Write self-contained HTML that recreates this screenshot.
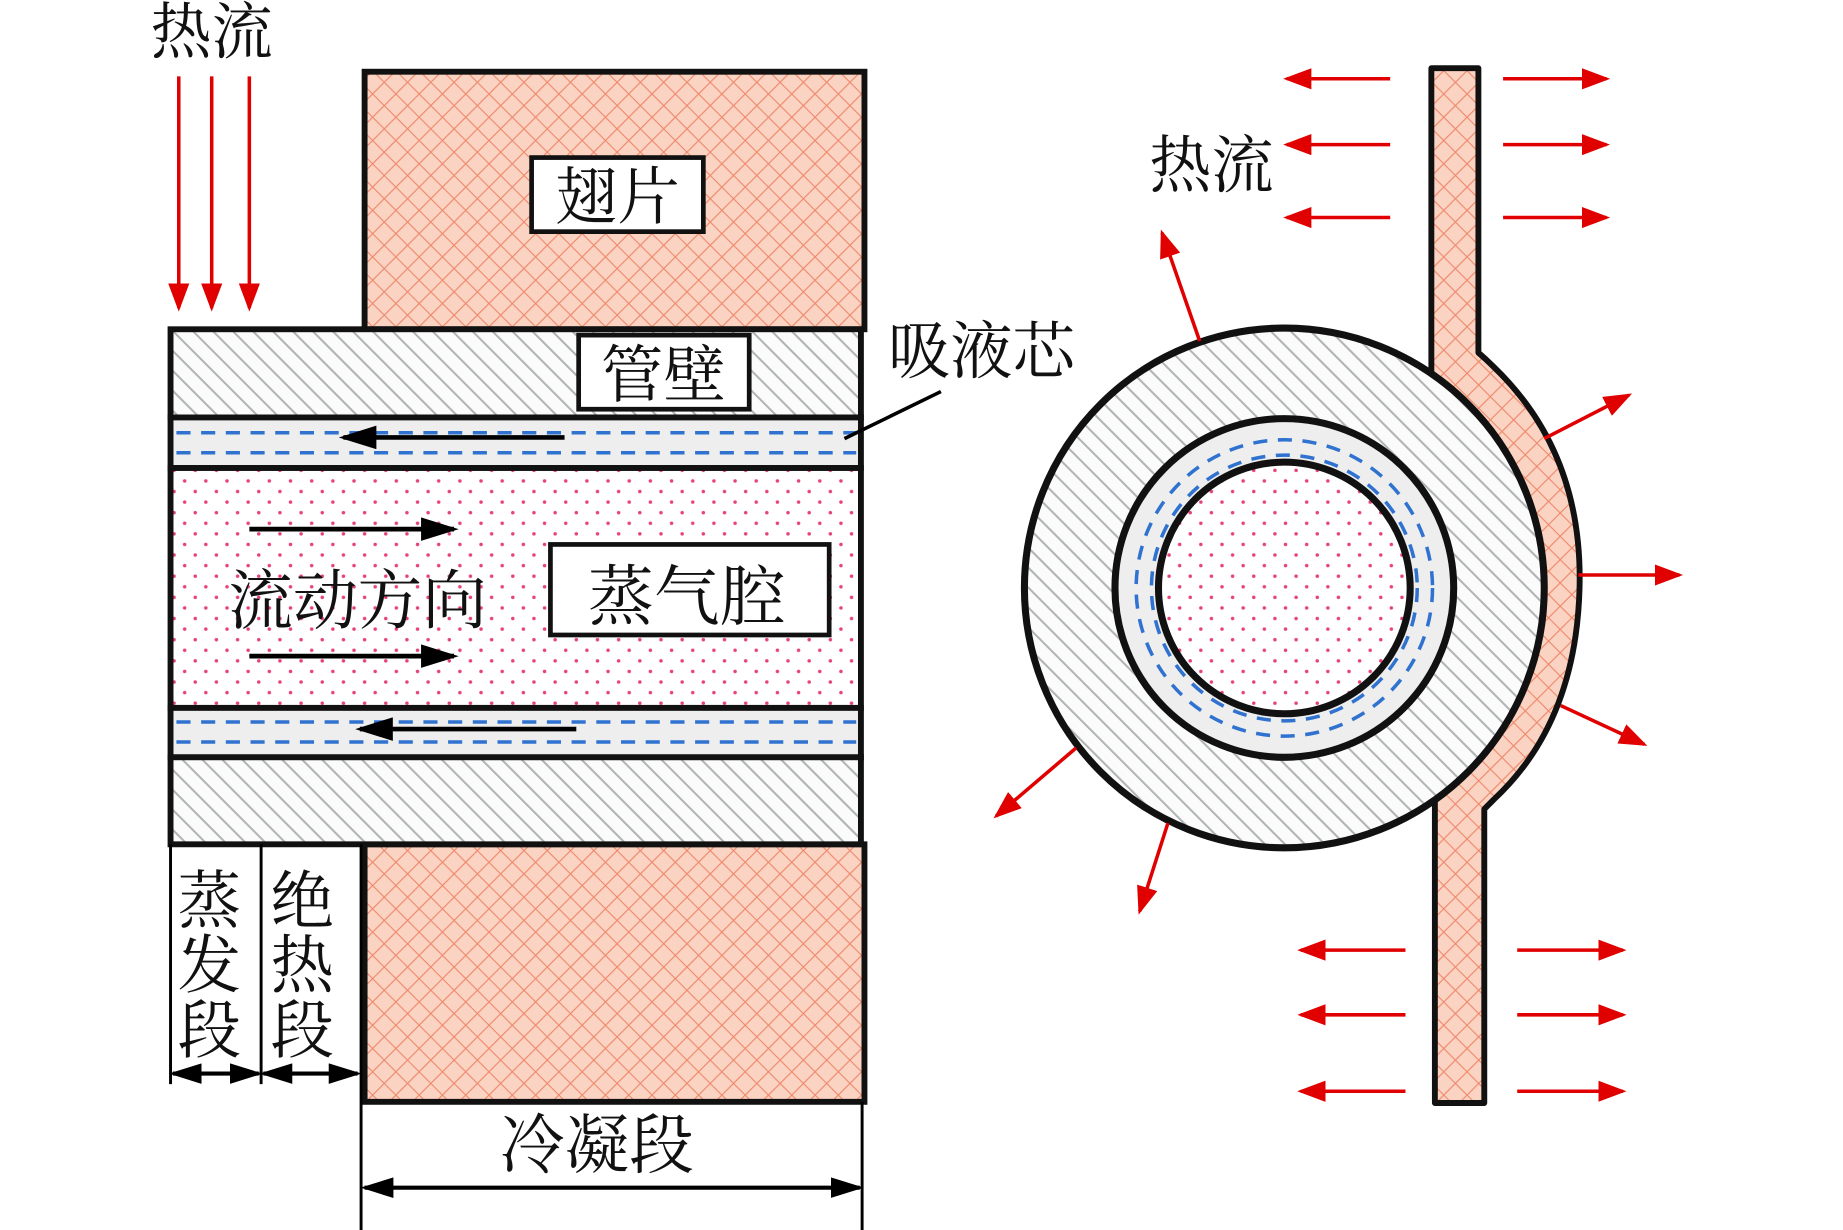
<!DOCTYPE html>
<html><head><meta charset="utf-8"><style>
html,body{margin:0;padding:0;background:#fff;}
svg{display:block;}
text{font-family:"Liberation Serif","Noto Serif CJK SC","Noto Sans CJK SC",serif;fill:#111;}
</style></head><body>
<svg width="1843" height="1230" viewBox="0 0 1567 1046" preserveAspectRatio="none" xmlns="http://www.w3.org/2000/svg">
<defs>
<pattern id="cross" width="14" height="14" patternUnits="userSpaceOnUse" patternTransform="rotate(45)">
<rect width="14" height="14" fill="#fbd3c3"/>
<line x1="0" y1="0" x2="14" y2="0" stroke="#ee8a6c" stroke-width="2"/>
<line x1="0" y1="0" x2="0" y2="14" stroke="#ee8a6c" stroke-width="2"/>
</pattern>
<pattern id="hatch" width="12" height="12" patternUnits="userSpaceOnUse" patternTransform="rotate(-45)">
<rect width="12" height="12" fill="#fbfbfb"/>
<line x1="0" y1="0" x2="0" y2="12" stroke="#b0b4b4" stroke-width="3.5"/>
</pattern>
<pattern id="dots" width="18" height="18" patternUnits="userSpaceOnUse">
<rect width="18" height="18" fill="#fff"/>
<circle cx="4" cy="4" r="1.5" fill="#e8417a"/>
<circle cx="13" cy="13" r="1.5" fill="#e8417a"/>
</pattern>
<marker id="rh" markerWidth="8" markerHeight="6" refX="7" refY="3" orient="auto" markerUnits="strokeWidth"><path d="M0,0 L8,3 L0,6 Z" fill="#e00000"/></marker>
<marker id="bh" markerWidth="8" markerHeight="5" refX="7" refY="2.5" orient="auto" markerUnits="strokeWidth"><path d="M0,0 L8,2.5 L0,5 Z" fill="#000"/></marker>
<marker id="bt" markerWidth="8" markerHeight="5" refX="1" refY="2.5" orient="auto" markerUnits="strokeWidth"><path d="M8,0 L0,2.5 L8,5 Z" fill="#000"/></marker>
</defs>

<!-- LEFT -->
<text x="128" y="45" font-size="52">热流</text>
<g stroke="#e00000" stroke-width="3" marker-end="url(#rh)">
<line x1="152" y1="65" x2="152" y2="262"/>
<line x1="180" y1="65" x2="180" y2="262"/>
<line x1="212" y1="65" x2="212" y2="262"/>
</g>

<rect x="310" y="61" width="425" height="219" fill="url(#cross)" stroke="#111" stroke-width="5"/>
<rect x="310" y="718" width="425" height="219" fill="url(#cross)" stroke="#111" stroke-width="5"/>

<rect x="145" y="280" width="587" height="75" fill="url(#hatch)" stroke="#111" stroke-width="5"/>
<rect x="145" y="355" width="587" height="43" fill="#eeeeee" stroke="#111" stroke-width="5"/>
<rect x="145" y="398" width="587" height="204" fill="url(#dots)" stroke="#111" stroke-width="5"/>
<rect x="145" y="602" width="587" height="42" fill="#eeeeee" stroke="#111" stroke-width="5"/>
<rect x="145" y="644" width="587" height="74" fill="url(#hatch)" stroke="#111" stroke-width="5"/>
<g stroke="#2f72d0" stroke-width="3" stroke-dasharray="12,9">
<line x1="150" y1="368" x2="728" y2="368"/><line x1="150" y1="385" x2="728" y2="385"/>
<line x1="150" y1="614" x2="728" y2="614"/><line x1="150" y1="631" x2="728" y2="631"/>
</g>
<g stroke="#000" stroke-width="4" marker-end="url(#bh)">
<line x1="480" y1="372" x2="292" y2="372"/>
<line x1="490" y1="620" x2="306" y2="620"/>
<line x1="212" y1="450" x2="386" y2="450"/>
<line x1="212" y1="558" x2="386" y2="558"/>
</g>

<rect x="452" y="134" width="146" height="63" fill="#fff" stroke="#111" stroke-width="4"/>
<text x="472" y="186" font-size="53">翅片</text>
<rect x="492" y="285" width="145" height="63" fill="#fff" stroke="#111" stroke-width="4"/>
<text x="511" y="337" font-size="53">管壁</text>
<rect x="468" y="463" width="237" height="77" fill="#fff" stroke="#111" stroke-width="4"/>
<text x="500" y="527" font-size="56">蒸气腔</text>
<text x="194" y="530" font-size="55">流动方向</text>
<text x="755" y="317" font-size="53">吸液芯</text>
<line x1="800" y1="333" x2="718" y2="373" stroke="#000" stroke-width="3"/>

<g stroke="#000" stroke-width="2.5">
<line x1="145" y1="718" x2="145" y2="922"/>
<line x1="222" y1="718" x2="222" y2="922"/>
<line x1="307" y1="718" x2="307" y2="1046"/>
<line x1="733" y1="937" x2="733" y2="1046"/>
</g>
<g stroke="#000" stroke-width="3.5" marker-end="url(#bh)" marker-start="url(#bt)">
<line x1="147" y1="913" x2="220" y2="913"/>
<line x1="224" y1="913" x2="304" y2="913"/>
<line x1="310" y1="1010" x2="731" y2="1010"/>
</g>
<text font-size="54" x="151" y="785">蒸</text>
<text font-size="54" x="151" y="840">发</text>
<text font-size="54" x="151" y="895">段</text>
<text font-size="54" x="230" y="785">绝</text>
<text font-size="54" x="230" y="840">热</text>
<text font-size="54" x="230" y="895">段</text>
<text x="425" y="993" font-size="55">冷凝段</text>

<!-- RIGHT -->
<path d="M1217,58 H1257 V300 Q1262,304 1270,312 Q1346,385 1343,500 Q1340,615 1270,680 L1262,688 V938 H1220 V660 L1150,500 L1217,330 Z" fill="url(#cross)" stroke="#111" stroke-width="5" stroke-linejoin="round"/>
<circle cx="1092" cy="500" r="221" fill="url(#hatch)" stroke="#111" stroke-width="6"/>
<circle cx="1092" cy="500" r="144" fill="#eeeeee" stroke="#111" stroke-width="6"/>
<circle cx="1092" cy="500" r="126" fill="none" stroke="#2f72d0" stroke-width="3" stroke-dasharray="12,9"/>
<circle cx="1092" cy="500" r="113" fill="none" stroke="#2f72d0" stroke-width="3" stroke-dasharray="12,9"/>
<circle cx="1092" cy="500" r="107" fill="url(#dots)" stroke="#111" stroke-width="6"/>

<text x="977" y="159" font-size="53">热流</text>
<g stroke="#e00000" stroke-width="3" marker-end="url(#rh)">
<line x1="1182" y1="67" x2="1094" y2="67"/>
<line x1="1182" y1="123" x2="1094" y2="123"/>
<line x1="1182" y1="185" x2="1094" y2="185"/>
<line x1="1278" y1="67" x2="1366" y2="67"/>
<line x1="1278" y1="123" x2="1366" y2="123"/>
<line x1="1278" y1="185" x2="1366" y2="185"/>
<line x1="1195" y1="808" x2="1106" y2="808"/>
<line x1="1195" y1="863" x2="1106" y2="863"/>
<line x1="1195" y1="928" x2="1106" y2="928"/>
<line x1="1290" y1="808" x2="1380" y2="808"/>
<line x1="1290" y1="863" x2="1380" y2="863"/>
<line x1="1290" y1="928" x2="1380" y2="928"/>
<line x1="1020" y1="290" x2="988" y2="198"/>
<line x1="1313" y1="373" x2="1385" y2="336"/>
<line x1="1342" y1="489" x2="1428" y2="489"/>
<line x1="1327" y1="600" x2="1398" y2="633"/>
<line x1="915" y1="636" x2="847" y2="694"/>
<line x1="993" y1="700" x2="969" y2="775"/>
</g>
</svg>
</body></html>
